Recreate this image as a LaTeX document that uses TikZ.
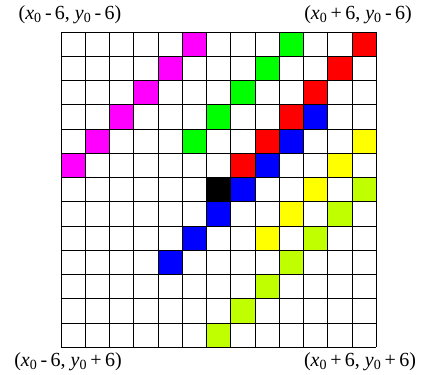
\documentclass[tikz,border=0pt]{standalone}
\usepackage{fontspec}
\setmainfont{Liberation Serif}
\usetikzlibrary{positioning}
\definecolor{cellmagenta}{RGB}{255,0,255}
\definecolor{cellgreen}{RGB}{0,255,0}
\definecolor{cellred}{RGB}{255,0,0}
\definecolor{cellblue}{RGB}{0,0,255}
\definecolor{cellyellow}{RGB}{255,255,0}
\definecolor{celllime}{RGB}{192,255,0}
\newcommand{\pt}[2]{(\textit{x}\textsubscript{0}#1, \textit{y}\textsubscript{0}#2)}

\begin{document}
\begin{tikzpicture}[x=1pt,y=-1pt,font=\fontsize{20}{24}\selectfont,
    corner/.style={inner sep=0pt}]
    \useasboundingbox (0,0) rectangle (434,375);
    \begin{scope}[shift={(61,32)},x=24.25pt,y=-24.25pt]
        % coloured cells: column/row/colour
        \foreach \c/\r/\clr in {
            5/0/cellmagenta, 4/1/cellmagenta, 3/2/cellmagenta,
            2/3/cellmagenta, 1/4/cellmagenta, 0/5/cellmagenta,
            9/0/cellgreen, 8/1/cellgreen, 7/2/cellgreen,
            6/3/cellgreen, 5/4/cellgreen,
            12/0/cellred, 11/1/cellred, 10/2/cellred,
            9/3/cellred, 8/4/cellred, 7/5/cellred,
            10/3/cellblue, 9/4/cellblue, 8/5/cellblue, 7/6/cellblue,
            6/7/cellblue, 5/8/cellblue, 4/9/cellblue,
            12/4/cellyellow, 11/5/cellyellow, 10/6/cellyellow,
            9/7/cellyellow, 8/8/cellyellow,
            12/6/celllime, 11/7/celllime, 10/8/celllime, 9/9/celllime,
            8/10/celllime, 7/11/celllime, 6/12/celllime,
            6/6/black}{
            \fill[\clr] (\c,\r) rectangle ++(1,1);
        }
        % grid
        \foreach \i in {0,...,13}{
            \draw[line width=1pt] (\i,0) -- (\i,13);
            \draw[line width=1pt] (0,\i) -- (13,\i);
        }
    \end{scope}
    \node[corner] (tl) at (70,15) {\pt{\,-\,6}{\,-\,6}};
    \node[corner] (tr) at (358,15) {\pt{\,+\,6}{\,-\,6}};
    \node[corner] (bl) at (68,362) {\pt{\,-\,6}{\,+\,6}};
    \node[corner] (br) at (360,362) {\pt{\,+\,6}{\,+\,6}};
\end{tikzpicture}
\end{document}
